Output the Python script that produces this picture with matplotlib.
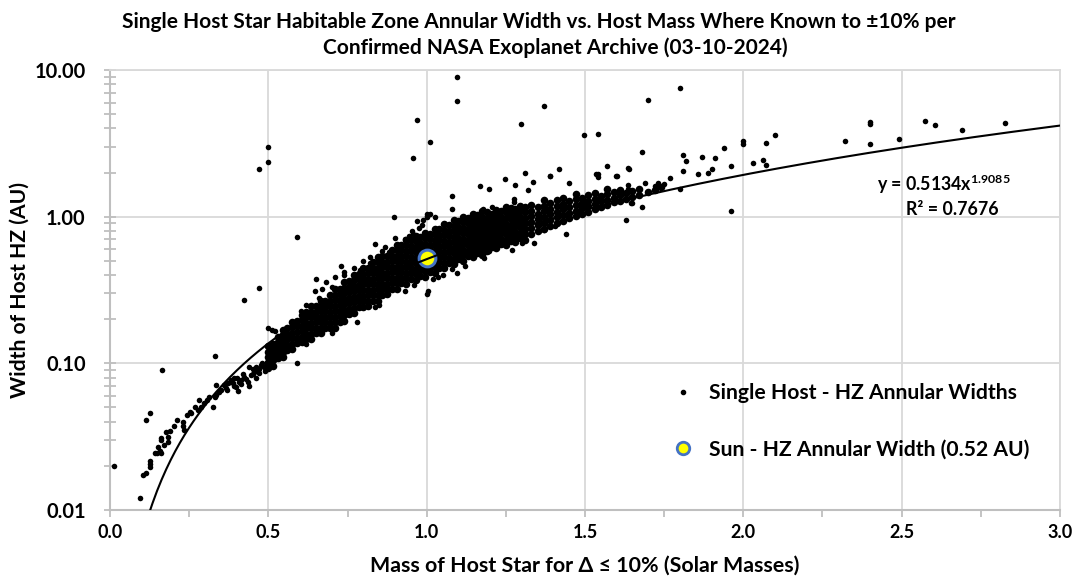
import matplotlib
matplotlib.use("Agg")
import matplotlib.pyplot as plt
from matplotlib.lines import Line2D
from matplotlib.ticker import MultipleLocator, FixedLocator, NullFormatter, FuncFormatter
import numpy as np

plt.rcParams['font.family'] = ['Lato', 'DejaVu Sans']
plt.rcParams['font.weight'] = 'bold'
plt.rcParams['mathtext.fontset'] = 'custom'
plt.rcParams['mathtext.rm'] = 'Lato:bold'
plt.rcParams['mathtext.it'] = 'Lato:bold'
plt.rcParams['mathtext.bf'] = 'Lato:bold'

# ---------------- data ----------------
# low-mass tail (M < 0.5)
tail_mass = [0.013, 0.094, 0.105, 0.115, 0.115, 0.125, 0.125, 0.125, 0.127, 0.141,
             0.149, 0.157, 0.162, 0.153, 0.162, 0.162, 0.172, 0.183, 0.178, 0.188,
             0.183, 0.164, 0.202, 0.212, 0.230, 0.230, 0.233, 0.244, 0.254, 0.256,
             0.267, 0.279, 0.282, 0.288, 0.298, 0.307, 0.314, 0.325, 0.330, 0.335,
             0.345, 0.335, 0.333, 0.361, 0.372, 0.382, 0.387, 0.398, 0.403, 0.408,
             0.414, 0.424, 0.435, 0.440, 0.450, 0.455, 0.471, 0.476, 0.487, 0.497,
             0.370, 0.390, 0.400, 0.415, 0.420, 0.430, 0.445, 0.450, 0.460, 0.465,
             0.470, 0.480, 0.490, 0.495, 0.460, 0.440, 0.352, 0.365, 0.378, 0.392]
tail_width = [0.020, 0.0121, 0.0172, 0.0178, 0.041, 0.046, 0.0215, 0.0205, 0.0197, 0.0243,
              0.0245, 0.0253, 0.0245, 0.0267, 0.030, 0.031, 0.0277, 0.0315, 0.034, 0.0345,
              0.0292, 0.0906, 0.0373, 0.041, 0.040, 0.0376, 0.035, 0.0443, 0.0468, 0.0455,
              0.050, 0.0484, 0.056, 0.050, 0.0537, 0.056, 0.059, 0.050, 0.059, 0.0606,
              0.0638, 0.0709, 0.113, 0.0709, 0.0735, 0.0766, 0.0729, 0.069, 0.0645, 0.0746,
              0.0775, 0.0807, 0.0746, 0.0944, 0.085, 0.0872, 0.092, 0.097, 0.094, 0.102,
              0.066, 0.070, 0.080, 0.072, 0.085, 0.078, 0.083, 0.092, 0.080, 0.089,
              0.086, 0.100, 0.088, 0.097, 0.095, 0.070, 0.066, 0.068, 0.075, 0.079]

# dense main band: one column of widths per mass
band_mass = [0.500, 0.515, 0.530, 0.545, 0.560, 0.575, 0.590, 0.605, 0.620, 0.635,
             0.650, 0.665, 0.680, 0.695, 0.710, 0.725, 0.740, 0.755, 0.770, 0.785,
             0.800, 0.815, 0.830, 0.845, 0.860, 0.875, 0.890, 0.905, 0.920, 0.935,
             0.950, 0.965, 0.980, 0.995, 1.010, 1.025, 1.040, 1.055, 1.070, 1.085,
             1.100, 1.115, 1.130, 1.145, 1.160, 1.175, 1.190, 1.205, 1.220, 1.235,
             1.250, 1.265, 1.280, 1.295, 1.310,
             1.33, 1.35, 1.37, 1.39, 1.41, 1.43, 1.45, 1.47, 1.49, 1.51,
             1.53, 1.55, 1.57, 1.59, 1.61, 1.63, 1.65, 1.67, 1.70, 1.72, 1.74]
band_width = [
    [0.093, 0.101, 0.110, 0.120, 0.131],
    [0.096, 0.105, 0.114, 0.124, 0.135],
    [0.108, 0.117, 0.128, 0.140, 0.152],
    [0.110, 0.120, 0.131, 0.143, 0.156, 0.170],
    [0.123, 0.134, 0.146, 0.159, 0.173],
    [0.125, 0.136, 0.148, 0.162, 0.176, 0.192],
    [0.138, 0.150, 0.164, 0.179, 0.195],
    [0.139, 0.152, 0.166, 0.181, 0.197, 0.215],
    [0.146, 0.159, 0.174, 0.189, 0.206, 0.224],
    [0.146, 0.159, 0.173, 0.189, 0.206, 0.225, 0.245],
    [0.160, 0.174, 0.190, 0.207, 0.225, 0.246],
    [0.160, 0.174, 0.190, 0.207, 0.226, 0.246, 0.268],
    [0.174, 0.190, 0.207, 0.226, 0.246, 0.268],
    [0.174, 0.189, 0.206, 0.225, 0.245, 0.267, 0.291],
    [0.175, 0.190, 0.207, 0.226, 0.246, 0.269, 0.293, 0.319],
    [0.192, 0.210, 0.228, 0.249, 0.271, 0.296, 0.322],
    [0.195, 0.213, 0.232, 0.253, 0.276, 0.300, 0.327, 0.357],
    [0.216, 0.236, 0.257, 0.280, 0.305, 0.333, 0.363],
    [0.220, 0.239, 0.261, 0.285, 0.310, 0.338, 0.368, 0.402],
    [0.242, 0.264, 0.288, 0.314, 0.342, 0.373, 0.407],
    [0.244, 0.266, 0.290, 0.316, 0.345, 0.376, 0.409, 0.446],
    [0.245, 0.267, 0.291, 0.317, 0.346, 0.377, 0.411, 0.448],
    [0.268, 0.292, 0.318, 0.347, 0.378, 0.412, 0.449, 0.489],
    [0.268, 0.293, 0.319, 0.348, 0.379, 0.413, 0.450, 0.491, 0.535],
    [0.294, 0.320, 0.349, 0.380, 0.414, 0.452, 0.492, 0.537],
    [0.295, 0.321, 0.350, 0.381, 0.416, 0.453, 0.494, 0.539],
    [0.323, 0.351, 0.383, 0.418, 0.455, 0.496, 0.541, 0.589],
    [0.323, 0.352, 0.384, 0.418, 0.456, 0.497, 0.542, 0.591, 0.644],
    [0.351, 0.382, 0.417, 0.454, 0.495, 0.539, 0.588, 0.641],
    [0.348, 0.380, 0.414, 0.451, 0.492, 0.536, 0.585, 0.637, 0.695],
    [0.377, 0.411, 0.448, 0.489, 0.532, 0.580, 0.632, 0.690],
    [0.371, 0.405, 0.441, 0.481, 0.524, 0.571, 0.623, 0.679, 0.740],
    [0.397, 0.433, 0.472, 0.514, 0.561, 0.611, 0.666, 0.726],
    [0.389, 0.425, 0.463, 0.504, 0.550, 0.600, 0.653, 0.712, 0.777],
    [0.420, 0.457, 0.498, 0.543, 0.592, 0.645, 0.703, 0.767],
    [0.416, 0.453, 0.494, 0.538, 0.587, 0.640, 0.697, 0.760, 0.829],
    [0.449, 0.489, 0.534, 0.582, 0.634, 0.691, 0.753, 0.821],
    [0.444, 0.484, 0.528, 0.575, 0.627, 0.683, 0.745, 0.812, 0.885],
    [0.480, 0.522, 0.570, 0.621, 0.677, 0.737, 0.804, 0.876],
    [0.474, 0.516, 0.563, 0.613, 0.669, 0.729, 0.795, 0.866, 0.945],
    [0.511, 0.556, 0.607, 0.661, 0.720, 0.785, 0.856, 0.933],
    [0.501, 0.547, 0.596, 0.649, 0.708, 0.772, 0.841, 0.917, 0.999],
    [0.537, 0.585, 0.638, 0.696, 0.758, 0.826, 0.900, 0.982],
    [0.527, 0.574, 0.626, 0.682, 0.744, 0.811, 0.884, 0.963, 1.05],
    [0.562, 0.613, 0.668, 0.728, 0.793, 0.865, 0.942, 1.03],
    [0.549, 0.598, 0.653, 0.711, 0.775, 0.845, 0.921, 1.00, 1.09],
    [0.585, 0.637, 0.694, 0.757, 0.825, 0.899, 0.980, 1.07],
    [0.622, 0.679, 0.739, 0.806, 0.879, 0.958, 1.04],
    [0.609, 0.663, 0.723, 0.788, 0.859, 0.937, 1.02, 1.11],
    [0.649, 0.708, 0.771, 0.841, 0.917, 0.999, 1.09],
    [0.636, 0.693, 0.756, 0.824, 0.898, 0.979, 1.07, 1.16],
    [0.679, 0.741, 0.807, 0.880, 0.959, 1.05, 1.14],
    [0.667, 0.726, 0.792, 0.863, 0.941, 1.03, 1.12],
    [0.712, 0.776, 0.846, 0.922, 1.00, 1.10, 1.19],
    [0.698, 0.760, 0.829, 0.903, 0.984, 1.07, 1.17],
    [0.76, 0.84, 0.92, 1.01, 1.10, 1.21],
    [0.80, 0.88, 0.96, 1.05, 1.16],
    [0.83, 0.91, 1.00, 1.09, 1.19, 1.30],
    [0.87, 0.95, 1.04, 1.13, 1.24],
    [0.90, 0.99, 1.08, 1.18, 1.29],
    [0.94, 1.03, 1.12, 1.22, 1.34],
    [0.98, 1.06, 1.16, 1.27],
    [1.01, 1.10, 1.20, 1.31, 1.42],
    [1.05, 1.14, 1.24, 1.35],
    [1.08, 1.18, 1.28, 1.40],
    [1.12, 1.22, 1.32, 1.45],
    [1.17, 1.27, 1.38],
    [1.20, 1.30, 1.42, 1.55],
    [1.25, 1.35, 1.47],
    [1.28, 1.40, 1.52],
    [1.33, 1.45],
    [1.37, 1.50],
    [1.41, 1.55],
    [1.48],
    [1.52],
    [1.60],
]

# scattered points around the band and outliers
scatter_mass = [1.097, 1.097, 0.968, 1.010, 0.958, 0.500, 0.500, 0.472, 1.170, 1.197,
                1.079, 1.079, 1.207, 1.177, 0.898, 0.590, 0.472, 0.424,
                1.800, 1.699, 1.369, 1.299, 1.498, 1.540, 1.680, 2.400, 2.400, 2.574,
                2.605, 2.690, 2.826, 2.321, 2.400, 2.490, 2.100, 2.073, 1.999, 1.999,
                1.939, 2.062, 2.073, 2.030, 1.960, 1.960, 1.911, 1.869, 1.900, 1.890,
                1.808, 1.820, 1.810, 1.858, 1.770, 1.750, 1.730, 1.800, 1.720, 1.690,
                1.680, 1.650, 1.628, 1.640, 1.600, 1.569, 1.540, 1.540, 1.418, 1.390,
                1.310, 1.247, 1.278, 1.336, 1.320, 1.449, 1.268, 1.300, 1.340, 1.440,
                1.370, 1.388, 1.277, 1.277, 1.637, 1.635, 1.635, 1.645, 1.405, 1.197,
                1.021, 1.037, 1.079, 1.095, 1.000, 1.009, 1.000, 1.147, 1.535, 1.598,
                0.728, 0.738, 0.649, 0.681, 0.670, 0.646, 0.712, 0.757, 0.602, 0.838,
                0.791, 0.822, 0.838, 0.900, 0.958, 0.969, 1.000, 1.027, 1.000, 1.003,
                0.500, 0.510, 0.520, 0.592,
                0.930, 0.945, 0.955, 0.975, 0.985, 0.990, 0.870, 0.880, 0.860, 0.820,
                0.800, 0.770, 0.740, 0.700, 0.660, 0.620,
                0.780, 0.850, 0.930, 0.960, 1.050, 1.120, 1.180, 0.700, 0.620]
scatter_width = [8.96, 6.12, 4.57, 3.24, 2.53, 3.00, 2.37, 2.10, 1.62, 1.54,
                 1.38, 1.13, 1.17, 1.12, 1.00, 0.73, 0.324, 0.272,
                 7.55, 6.25, 5.70, 4.27, 3.60, 3.67, 2.77, 4.43, 4.30, 4.50,
                 4.20, 3.90, 4.34, 3.29, 3.12, 3.40, 3.60, 3.19, 3.29, 3.15,
                 2.92, 2.45, 2.25, 2.33, 2.21, 1.10, 2.51, 2.55, 2.13, 1.98,
                 2.63, 2.38, 2.06, 1.95, 1.83, 1.67, 1.70, 1.55, 1.62, 1.70,
                 1.17, 1.24, 0.95, 2.13, 1.89, 2.21, 1.95, 1.85, 2.11, 1.89,
                 1.99, 1.80, 1.65, 1.73, 1.52, 1.70, 0.59, 0.66, 0.66, 0.76,
                 0.81, 1.90, 1.32, 1.25, 2.15, 1.64, 1.54, 1.24, 0.87, 0.587,
                 0.375, 0.386, 0.44, 0.41, 1.05, 1.04, 1.00, 1.00, 1.95, 1.89,
                 0.46, 0.418, 0.377, 0.361, 0.322, 0.31, 0.39, 0.352, 0.226, 0.244,
                 0.436, 0.53, 0.65, 0.72, 0.76, 0.93, 1.016, 0.99, 0.298, 0.31,
                 0.175, 0.17, 0.165, 0.10,
                 0.70, 0.74, 0.80, 0.84, 0.88, 0.95, 0.62, 0.57, 0.58, 0.48,
                 0.50, 0.45, 0.40, 0.33, 0.28, 0.25,
                 0.19, 0.25, 0.31, 0.34, 0.40, 0.46, 0.52, 0.16, 0.135]

sun_mass = [1.0]
sun_width = [0.52]

trend_a = 0.5134
trend_b = 1.9085
r_squared = 0.7676

x_ticks = [0.0, 0.5, 1.0, 1.5, 2.0, 2.5, 3.0]
y_ticks = [0.01, 0.1, 1.0, 10.0]

title_lines = ["Single Host Star Habitable Zone Annular Width vs. Host Mass Where Known to \u00b110% per",
               "Confirmed NASA Exoplanet Archive (03-10-2024)"]
x_label = "Mass of Host Star for \u0394 \u2264 10% (Solar Masses)"
y_label = "Width of Host HZ (AU)"
legend_labels = ["Single Host - HZ Annular Widths", "Sun - HZ Annular Width (0.52 AU)"]

# ---------------- figure ----------------
W, H = 1078, 576
fig = plt.figure(figsize=(W / 100, H / 100), dpi=100)
L, R, T, B = 110, 1060, 70, 510
ax = fig.add_axes([L / W, 1 - B / H, (R - L) / W, (B - T) / H])
ax.set_yscale('log')
ax.set_xlim(0, 3)
ax.set_ylim(0.01, 10)

grid_c = '#D9D9D9'
axis_c = '#BFBFBF'
ax.grid(True, which='major', color=grid_c, lw=1.3, zorder=0)
ax.set_axisbelow(True)
for s in ['top', 'right']:
    ax.spines[s].set_color(grid_c)
    ax.spines[s].set_linewidth(1.3)
for s in ['left', 'bottom']:
    ax.spines[s].set_color(axis_c)
    ax.spines[s].set_linewidth(1.5)

# scattered points
ax.scatter(list(tail_mass) + list(scatter_mass), list(tail_width) + list(scatter_width),
           s=16, c='black', linewidths=0, zorder=3)
# dense band
bm, bw = [], []
for m, col in zip(band_mass, band_width):
    bm += [m] * len(col)
    bw += list(col)
ax.scatter(bm, bw, s=30, c='black', linewidths=0, zorder=3)

# Sun
ax.plot(sun_mass, sun_width, ls='none', marker='o', ms=12, mfc='#FFFF00',
        mec='#4472C4', mew=2.2, zorder=4)

# power-law trend line
xt = np.linspace((0.01 / trend_a) ** (1 / trend_b), 3.0, 400)
ax.plot(xt, trend_a * xt ** trend_b, color='black', lw=1.5, zorder=5)

# ticks
ax.xaxis.set_major_locator(FixedLocator(x_ticks))
ax.xaxis.set_minor_locator(MultipleLocator(0.25))
ax.xaxis.set_major_formatter(FuncFormatter(lambda v, p: f"{v:.1f}"))
ax.yaxis.set_major_locator(FixedLocator(y_ticks))
ax.yaxis.set_minor_locator(FixedLocator([k * 10.0 ** e for e in (-2, -1, 0) for k in range(2, 10)]))
ax.yaxis.set_major_formatter(FuncFormatter(lambda v, p: f"{v:.2f}"))
ax.yaxis.set_minor_formatter(NullFormatter())
ax.tick_params(axis='x', which='both', direction='out', length=5, width=1.3,
               color=axis_c, labelsize=13, pad=5)
ax.tick_params(axis='y', which='both', direction='inout', length=9, width=1.3,
               color=axis_c, labelsize=14.4, pad=13)
for lab in ax.get_xticklabels() + ax.get_yticklabels():
    lab.set_fontweight('bold')

xl = ax.set_xlabel(x_label, fontsize=15.4, fontweight='bold')
xl.set_va('center')
ax.xaxis.set_label_coords(0.5, -(566 - B) / (B - T))
yl = ax.set_ylabel(y_label, fontsize=15.2, fontweight='bold')
yl.set_va('center')
ax.yaxis.set_label_coords(-(L - 20) / (R - L), 0.5)

# title
fig.text(539 / W, 1 - 22 / H, title_lines[0], ha='center', va='center',
         fontsize=15, fontweight='bold')
fig.text(555 / W, 1 - 48 / H, title_lines[1], ha='center', va='center',
         fontsize=15, fontweight='bold')

# trendline equation
fig.text(944 / W, 1 - 184 / H, r"y = 0.5134x$^{%.4f}$" % trend_b, ha='center', va='center',
         fontsize=12.8, fontweight='bold')
fig.text(952 / W, 1 - 210 / H, "R\u00b2 = %.4f" % r_squared, ha='center', va='center',
         fontsize=12.8, fontweight='bold')

# legend
h1 = Line2D([], [], ls='none', marker='o', ms=3, color='black')
h2 = Line2D([], [], ls='none', marker='o', ms=9, mfc='#FFFF00', mec='#4472C4', mew=2)
ax.legend([h1, h2], legend_labels, loc='upper left',
          bbox_to_anchor=(671 / W, 1 - 383 / H), bbox_transform=fig.transFigure,
          frameon=False, labelspacing=1.72, handletextpad=0.7,
          handlelength=1.1, borderpad=0, borderaxespad=0,
          prop={'weight': 'bold', 'size': 15.2})

fig.savefig('out.png', dpi=100)
